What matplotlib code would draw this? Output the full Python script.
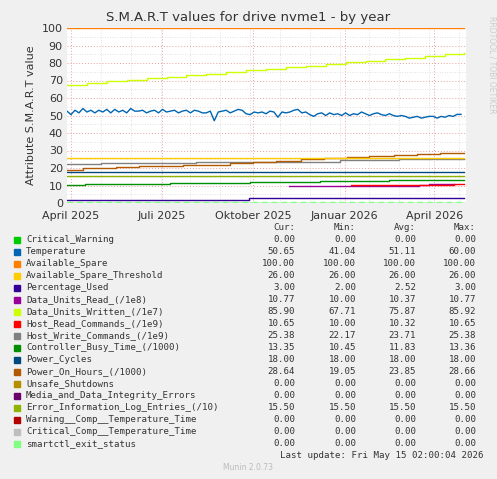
import matplotlib
matplotlib.use("Agg")
import matplotlib.pyplot as plt
import numpy as np

# x = days since 2025-04-01
x_min, x_max = -4, 397
tick_days = [0, 91, 183, 275, 365]
tick_labels = ["April 2025", "Juli 2025", "Oktober 2025", "Januar 2026", "April 2026"]

temp_days = list(range(-4, 396, 4))
temp_vals = [52.5, 50.5, 53, 51.5, 54, 52, 53, 51.5, 53, 52, 53.5, 51.5, 53.5, 52, 53, 51.5, 54, 52.5,
             52.5, 53, 51.5, 52.5, 53, 51.5, 53.5, 52, 52.5, 53, 51.5, 52.5, 53, 51.5, 53, 52.5, 51.5,
             51.5, 52.5, 47, 52, 52.5, 53, 51.5, 52.5, 53.5, 53, 51, 50.5, 52, 51.5, 52, 51, 52.5,
             52, 49, 52, 51.5, 52, 53, 53.5, 51.5, 52, 50.5, 49.5, 51, 51.5, 50, 51.5, 50.5,
             51, 50, 51.5, 50, 51, 50.5, 52, 51, 50, 51, 51.5, 50.5, 50, 51, 50, 49.5,
             50, 49.5, 48.5, 49, 49.5, 48.5, 49, 49.5, 49.5, 48.5, 49.5, 49, 50, 49.5, 50.65, 50.65]

written_days = [-4, 16, 36, 56, 76, 96, 116, 136, 156, 176, 196, 216, 236, 256, 276, 296, 316, 336, 356, 376, 395]
written_vals = [67.71, 68.6, 69.5, 70.4, 71.3, 72.2, 73.1, 74.0, 74.9, 75.8, 76.7, 77.6, 78.5, 79.4,
                80.3, 81.2, 82.1, 83.0, 84.0, 85.0, 85.9]

poh_days = [-4, 12, 45, 68, 113, 160, 183, 206, 231, 254, 277, 300, 325, 348, 371, 395]
poh_vals = [19.05, 19.8, 20.5, 21.2, 22.0, 22.8, 23.5, 24.2, 24.9, 25.6, 26.3, 27.0, 27.6, 28.2, 28.64, 28.64]

hwc_days = [-4, 30, 126, 200, 270, 330, 395]
hwc_vals = [22.17, 22.7, 23.2, 23.7, 24.4, 25.38, 25.38]

cbt_days = [-4, 14, 100, 180, 250, 320, 395]
cbt_vals = [10.45, 11.0, 11.3, 11.9, 12.4, 13.35, 13.35]

pu_days = [-4, 179, 395]
pu_vals = [2.0, 3.0, 3.0]

dur_days = [219, 350, 360, 385]
dur_vals = [10.0, 10.2, 10.77, 10.77]

hrc_days = [281, 350, 385, 395]
hrc_vals = [10.1, 10.3, 10.65, 10.65]

names = ["Critical_Warning", "Temperature", "Available_Spare", "Available_Spare_Threshold",
         "Percentage_Used", "Data_Units_Read_(/1e8)", "Data_Units_Written_(/1e7)",
         "Host_Read_Commands_(/1e9)", "Host_Write_Commands_(/1e9)", "Controller_Busy_Time_(/1000)",
         "Power_Cycles", "Power_On_Hours_(/1000)", "Unsafe_Shutdowns",
         "Media_and_Data_Integrity_Errors", "Error_Information_Log_Entries_(/10)",
         "Warning__Comp__Temperature_Time", "Critical_Comp__Temperature_Time", "smartctl_exit_status"]
colors = ["#00CC00", "#0066B3", "#FF8000", "#FFCC00", "#330099", "#990099", "#CCFF00", "#FF0000",
          "#808080", "#008F00", "#00487D", "#B35A00", "#B38F00", "#6B006B", "#8FB300", "#B30000",
          "#BEBEBE", "#80FF80"]
cur = ["0.00", "50.65", "100.00", "26.00", "3.00", "10.77", "85.90", "10.65", "25.38", "13.35",
       "18.00", "28.64", "0.00", "0.00", "15.50", "0.00", "0.00", "0.00"]
mins = ["0.00", "41.04", "100.00", "26.00", "2.00", "10.00", "67.71", "10.00", "22.17", "10.45",
        "18.00", "19.05", "0.00", "0.00", "15.50", "0.00", "0.00", "0.00"]
avgs = ["0.00", "51.11", "100.00", "26.00", "2.52", "10.37", "75.87", "10.32", "23.71", "11.83",
        "18.00", "23.85", "0.00", "0.00", "15.50", "0.00", "0.00", "0.00"]
maxs = ["0.00", "60.00", "100.00", "26.00", "3.00", "10.77", "85.92", "10.65", "25.38", "13.36",
        "18.00", "28.66", "0.00", "0.00", "15.50", "0.00", "0.00", "0.00"]

W, H = 497, 479
fig = plt.figure(figsize=(W/100, H/100), dpi=100, facecolor="#F0F0F0")
ax = fig.add_axes([67/W, 1-203/H, (466-67)/W, (203-28)/H])
ax.set_facecolor("white")
ax.set_xlim(x_min, x_max)
ax.set_ylim(0, 100)

full = [x_min, 395]
lw = 1.0
def step(d, v, c, **k):
    ax.step(d, v, where="post", color=c, lw=lw, **k)

step(full, [0, 0], colors[0])
step(pu_days, pu_vals, colors[4])
step(full, [15.5, 15.5], colors[14])
step(full, [18, 18], colors[10])
step(cbt_days, cbt_vals, colors[9])
step(dur_days, dur_vals, colors[5])
step(hrc_days, hrc_vals, colors[7])
step(hwc_days, hwc_vals, colors[8])
step(poh_days, poh_vals, colors[11])
step(full, [26, 26], colors[3])
ax.plot(temp_days, temp_vals, color=colors[1], lw=lw)
step(written_days, written_vals, colors[6])
step(full, [100, 100], colors[2])
ax.plot(full, [0.5, 0.5], color=colors[17], lw=lw, ls=(0, (4, 3)))

ax.set_yticks(range(0, 101, 10))
ax.set_yticks(range(0, 101, 5), minor=True)
ax.set_xticks(tick_days)
ax.set_xticklabels(tick_labels)
ax.set_xticks(list(range(0, 397, 30)), minor=True)
ax.grid(True, which="major", color="#E8A0A0", ls=(0, (1, 2)), lw=0.7)
ax.grid(True, which="minor", color="#D8D8D8", ls=(0, (1, 2)), lw=0.6)
ax.tick_params(which="both", labelsize=8, colors="#333333", length=0)
ax.tick_params(axis="x", pad=6)
ax.tick_params(axis="y", pad=3)
for s in ax.spines.values():
    s.set_visible(False)
ax.set_ylabel("Attribute S.M.A.R.T value", fontsize=8, color="#333333")
fig.text(0.5, 1-18/H, "S.M.A.R.T values for drive nvme1 - by year", ha="center", va="center",
         fontsize=9.5, color="#333333")
fig.text(492/W, 1-65/H, "RRDTOOL / TOBI OETIKER", rotation=270, ha="center", va="center",
         fontsize=5.5, color="#CCCCCC")

mono = "DejaVu Sans Mono"
fs = 6.6
y0 = 240
dy = 12
for xx, t in ((295, "Cur:"), (356, "Min:"), (416, "Avg:"), (476, "Max:")):
    fig.text(xx/W, 1-228/H, t, ha="right", va="center", family=mono, fontsize=fs, color="#333333")
for i, n in enumerate(names):
    y = 1-(y0+i*dy)/H
    fig.patches.append(plt.Rectangle((14/W, y-3/H), 6/W, 6/H, transform=fig.transFigure,
                                     color=colors[i]))
    fig.text(26/W, y, n, va="center", family=mono, fontsize=fs, color="#333333")
    for xx, vals in ((295, cur), (356, mins), (416, avgs), (476, maxs)):
        fig.text(xx/W, y, vals[i], ha="right", va="center", family=mono, fontsize=fs, color="#333333")
fig.text(483/W, 1-455/H, "Last update: Fri May 15 02:00:04 2026", ha="right", va="center",
         family=mono, fontsize=fs, color="#333333")
fig.text(248/W, 1-468/H, "Munin 2.0.73", ha="center", va="center", fontsize=5.5, color="#BBBBBB")
fig.savefig("out.png", dpi=100, facecolor=fig.get_facecolor())
